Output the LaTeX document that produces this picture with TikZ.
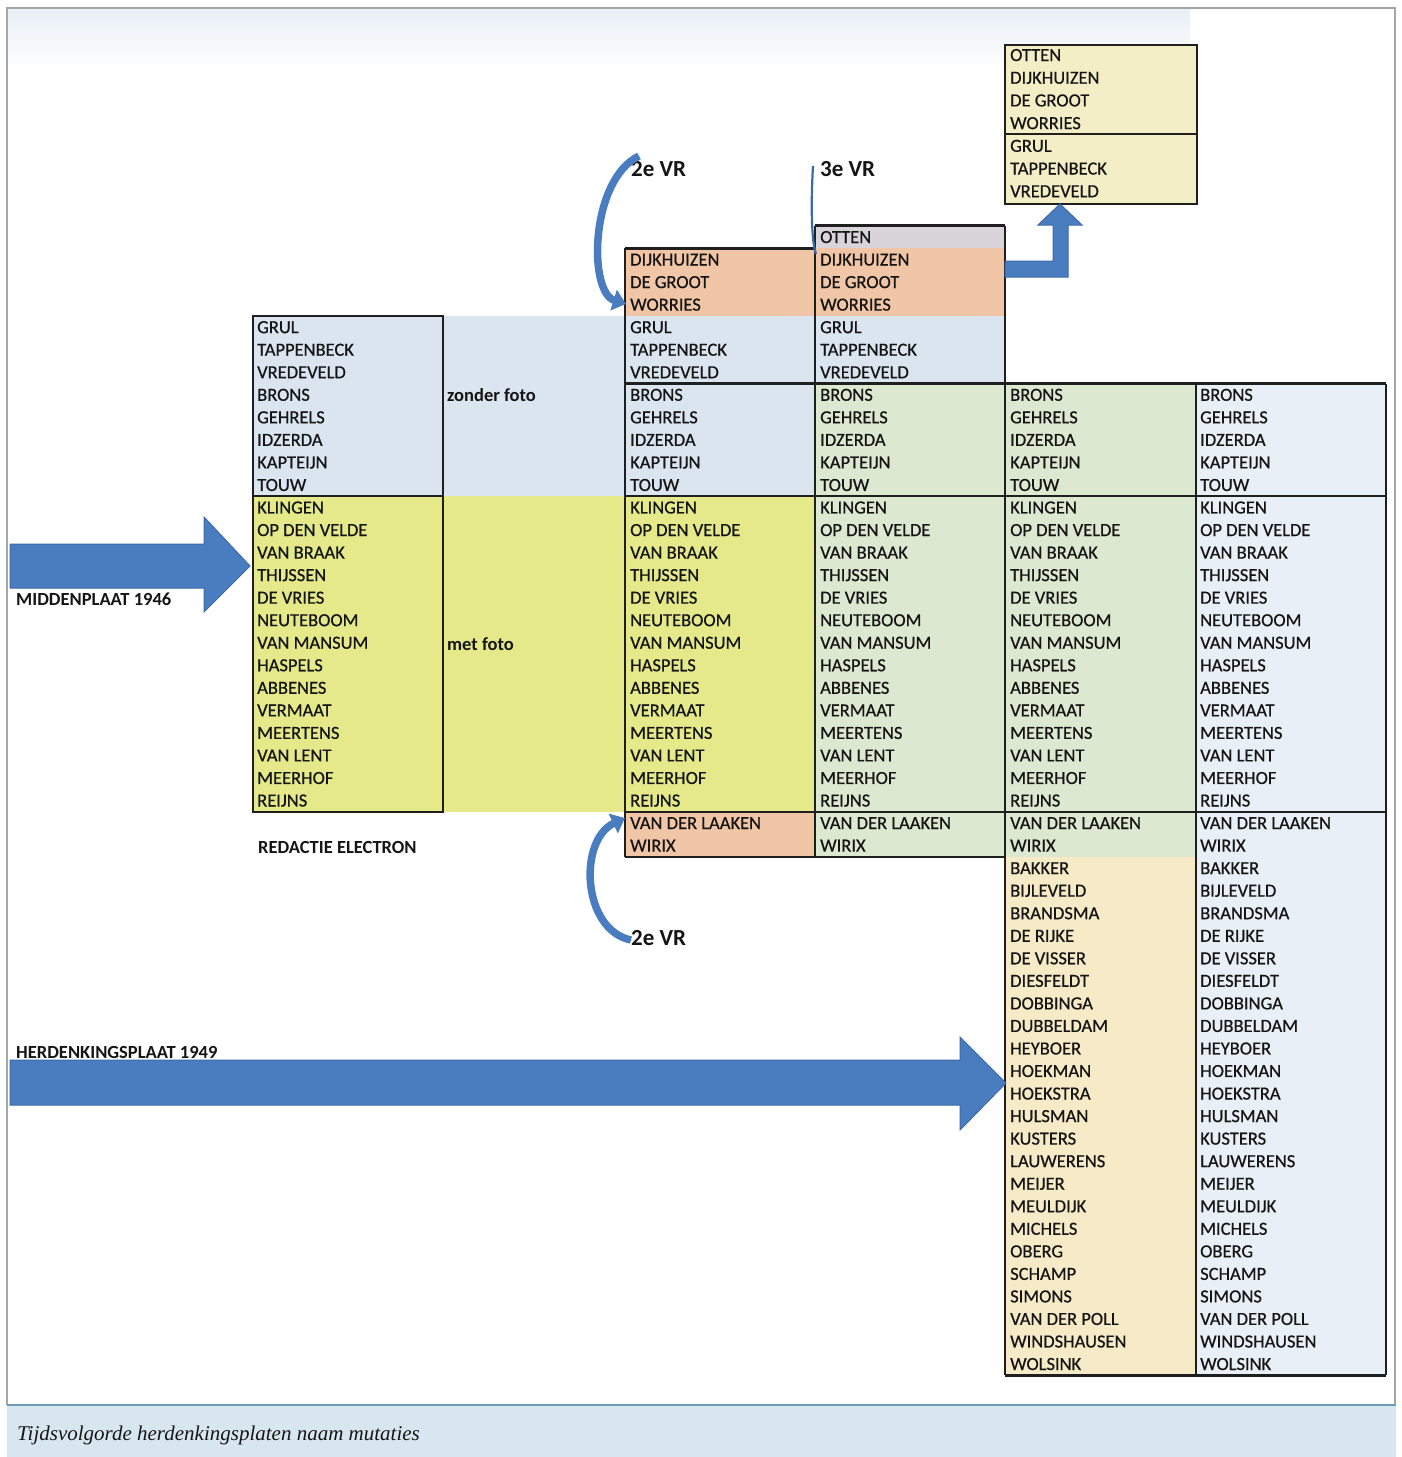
\documentclass[tikz,border=0pt]{standalone}
\usepackage{fontspec}
\setmainfont{Carlito}
\newfontfamily\namefont[RawFeature={embolden=0.6}]{Carlito}
\newfontfamily\capfont{Liberation Serif}
\usetikzlibrary{arrows.meta}
\definecolor{txt}{HTML}{151515}
\definecolor{boxline}{HTML}{1F1F1F}
\definecolor{lblue}{HTML}{DAE5F0}
\definecolor{pblue}{HTML}{E9EFF6}
\definecolor{yel}{HTML}{E5E98A}
\definecolor{peach}{HTML}{F0C6A6}
\definecolor{greyl}{HTML}{D8D4DA}
\definecolor{lgreen}{HTML}{DDE8D0}
\definecolor{cream}{HTML}{F6EBC6}
\definecolor{topcream}{HTML}{F4EEC6}
\definecolor{arrowblue}{HTML}{4A7DC0}
\definecolor{arrowedge}{HTML}{3C6AA8}
\definecolor{capblue}{HTML}{D8E7EF}
\definecolor{capline}{HTML}{6E9AB8}
\def\lBase{BRONS,GEHRELS,IDZERDA,KAPTEIJN,TOUW,KLINGEN,OP DEN VELDE,VAN BRAAK,THIJSSEN,DE VRIES,NEUTEBOOM,VAN MANSUM,HASPELS,ABBENES,VERMAAT,MEERTENS,VAN LENT,MEERHOF,REIJNS}
\edef\lOne{GRUL,TAPPENBECK,VREDEVELD,\lBase}
\edef\lTwo{DIJKHUIZEN,DE GROOT,WORRIES,\lOne,VAN DER LAAKEN,WIRIX}
\edef\lThree{OTTEN,\lTwo}
\edef\lFour{\lBase,VAN DER LAAKEN,WIRIX,BAKKER,BIJLEVELD,BRANDSMA,DE RIJKE,DE VISSER,DIESFELDT,DOBBINGA,DUBBELDAM,HEYBOER,HOEKMAN,HOEKSTRA,HULSMAN,KUSTERS,LAUWERENS,MEIJER,MEULDIJK,MICHELS,OBERG,SCHAMP,SIMONS,VAN DER POLL,WINDSHAUSEN,WOLSINK}
\def\lTop{OTTEN,DIJKHUIZEN,DE GROOT,WORRIES,GRUL,TAPPENBECK,VREDEVELD}
\newcommand\namecol[4]{\foreach \nm [count=\i from #3] in #4 {\node[nm] (#1-\i) at (#2,{243+\i*22.54}) {\nm};}}
\newcommand\rb[1]{\fpeval{225.73+#1*22.54}}
\begin{document}
\begin{tikzpicture}[x=1pt,y=-1pt,
  nm/.style={anchor=base west, inner sep=0pt, text=txt, font=\namefont\fontsize{18.5}{20}\selectfont},
  lbl/.style={anchor=base west, inner sep=0pt, text=txt, font=\fontsize{18.5}{20}\selectfont\bfseries},
  vr/.style={anchor=base west, inner sep=0pt, text=txt, font=\fontsize{23}{25}\selectfont\bfseries},
  gridline/.style={draw=boxline, line width=2.5pt},
  bigarrow/.style={fill=arrowblue, draw=arrowedge, line width=1pt},
  curvarrow/.style={draw=arrowblue, line width=7.5pt, -{Triangle[width=21pt,length=13pt]}}]
\useasboundingbox (0,0) rectangle (1402,1457);
\fill[white] (0,0) rectangle (1402,1457);
\shade[top color=lblue!60, bottom color=white] (8,9) rectangle (1190,70);
% fills
\fill[lblue] (253,{\rb{4}}) rectangle (815,{\rb{12}});
\fill[lblue] (815,{\rb{4}}) rectangle (1005,{\rb{7}});
\fill[yel] (253,{\rb{12}}) rectangle (815,{\rb{26}});
\fill[peach] (625,{\rb{1}}) rectangle (1005,{\rb{4}});
\fill[peach] (625,{\rb{26}}) rectangle (815,{\rb{28}});
\fill[greyl] (815,{\rb{0}}) rectangle (1005,{\rb{1}});
\fill[lgreen] (815,{\rb{7}}) rectangle (1196,{\rb{28}});
\fill[cream] (1005,{\rb{28}}) rectangle (1196,{\rb{51}});
\fill[pblue] (1196,{\rb{7}}) rectangle (1386,{\rb{51}});
\fill[topcream] (1005,45) rectangle (1197,204);
% grid lines
\draw[gridline] (253,{\rb{4}}) rectangle (443,{\rb{26}});
\draw[gridline] (253,{\rb{12}}) -- (443,{\rb{12}});
\draw[gridline] (625,{\rb{1}}) -- (815,{\rb{1}});
\draw[gridline] (815,{\rb{0}}) -- (1005,{\rb{0}});
\draw[gridline] (625,{\rb{1}}) -- (625,{\rb{28}});
\draw[gridline] (815,{\rb{0}}) -- (815,{\rb{28}});
\draw[gridline] (1005,{\rb{0}}) -- (1005,{\rb{51}});
\draw[gridline] (625,{\rb{7}}) -- (1386,{\rb{7}});
\draw[gridline] (625,{\rb{12}}) -- (1386,{\rb{12}});
\draw[gridline] (625,{\rb{26}}) -- (1386,{\rb{26}});
\draw[gridline] (625,{\rb{28}}) -- (1005,{\rb{28}});
\draw[gridline] (1196,{\rb{7}}) -- (1196,{\rb{51}});
\draw[gridline] (1386,{\rb{7}}) -- (1386,{\rb{51}});
\draw[gridline] (1005,{\rb{51}}) -- (1386,{\rb{51}});
\draw[gridline] (1005,45) rectangle (1197,204);
\draw[gridline] (1005,134) -- (1197,134);
% names
\namecol{c1}{257}{4}{\lOne}
\namecol{c2}{630}{1}{\lTwo}
\namecol{c3}{820}{0}{\lThree}
\namecol{c4}{1010}{7}{\lFour}
\namecol{c5}{1200}{7}{\lFour}
\foreach \nm [count=\i from 0] in \lTop {\node[nm] (t-\i) at (1010,{61+\i*22.7}) {\nm};}
% labels
\node[vr] (vr2a) at (631,176) {2e VR};
\node[vr] (vr3) at (820,176) {3e VR};
\node[vr] (vr2b) at (631,945) {2e VR};
\node[lbl] (zf) at (447,401) {zonder foto};
\node[lbl] (mf) at (447,650) {met foto};
\node[lbl] (red) at (258,853) {REDACTIE ELECTRON};
\node[lbl] (mp) at (16,605) {MIDDENPLAAT 1946};
\node[lbl] (hp) at (16,1058) {HERDENKINGSPLAAT 1949};
% big arrows
\draw[bigarrow] (10,544) -- (204,544) -- (204,517) -- (250,566) -- (204,612) -- (204,588) -- (10,588) -- cycle;
\draw[bigarrow] (10,1060) -- (960,1060) -- (960,1037) -- (1006,1083) -- (960,1130) -- (960,1105) -- (10,1105) -- cycle;
% bent arrow to top box
\draw[bigarrow] (1005,261) -- (1053,261) -- (1053,225) -- (1038,225) -- (1060,204) -- (1082,225) -- (1068,225) -- (1068,277) -- (1005,277) -- cycle;
% curved arrows
\coordinate (s2a) at (639,156);
\coordinate (e2a) at (626,304);
\draw[curvarrow] (s2a) .. controls (590,180) and (588,292) .. (e2a);
\coordinate (s2b) at (631,940);
\coordinate (e2b) at (625,818);
\draw[curvarrow] (s2b) .. controls (582,930) and (578,840) .. (e2b);
\coordinate (s3) at (813,166);
\coordinate (e3) at (816,254);
\draw[draw=arrowedge, line width=2.2pt] (s3) .. controls (811,200) and (811,240) .. (e3);
% frame and caption
\draw[gray!70, line width=1.2pt] (7,1405) -- (7,8) -- (1395,8) -- (1395,1405);
\fill[capblue] (7,1405) rectangle (1396,1457);
\draw[capline, line width=2pt] (7,1405) -- (1396,1405);
\node[anchor=base west, inner sep=0pt, text=txt, font=\capfont\itshape\fontsize{21}{23}\selectfont] (cap) at (17,1440) {Tijdsvolgorde herdenkingsplaten naam mutaties};
\end{tikzpicture}
\end{document}
